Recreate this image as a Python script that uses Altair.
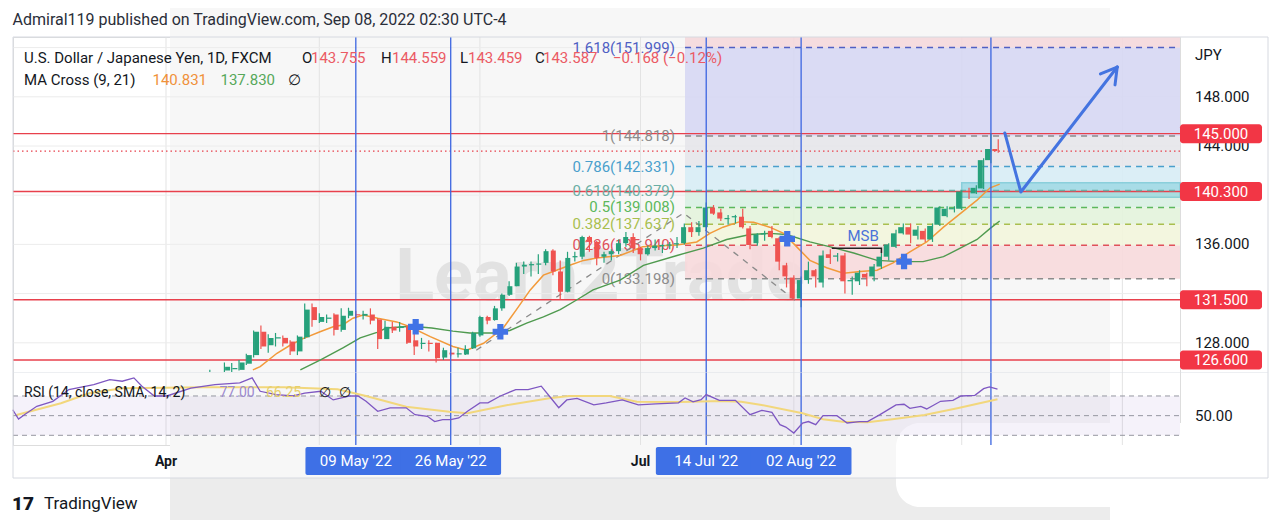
import numpy as np
import pandas as pd
import altair as alt

FONT = "Roboto"
W, H = 1167, 408
X_DOM = [-20.96, 138.9]
P_DOM = [125.626, 152.862]
P_RNG = [335, 0]
R_DOM = [20.13, 94.4]
R_RNG = [408, 335]

DARK = "#131722"
UP = "#26a17b"
DOWN = "#ef5350"
RED = "#e8404c"
BLUE = "#3b65e0"

# ---------------- data ----------------
candle_start = "2022-04-11"
candle_end = "2022-09-08"
opens = [124.3, 125.45, 125.75, 125.85, 125.8, 126.3, 127.0, 128.9, 127.8, 128.35,
         128.4, 128.1, 127.3, 128.45, 130.9, 129.7, 129.95, 130.3, 129.05, 130.2,
         130.3, 130.2, 130.3, 129.9, 128.3, 129.3, 129.2, 129.3, 128.2, 127.9,
         128.0, 128.0, 126.8, 127.2, 127.05, 127.05, 127.55, 128.6, 130.1, 129.85,
         130.8, 131.9, 132.6, 134.2, 134.3, 134.35, 134.5, 135.5, 133.8, 132.15,
         134.95, 135.0, 136.6, 136.2, 135.0, 135.2, 135.45, 136.1, 136.6, 135.7,
         135.2, 135.7, 135.85, 135.9, 136.0, 136.1, 137.4, 137.0, 137.4, 139.0,
         138.6, 138.05, 138.2, 138.25, 137.3, 136.1, 136.8, 137.1, 136.5, 134.3,
         133.3, 131.6, 133.1, 133.9, 132.9, 135.2, 135.0, 135.1, 133.0, 133.0,
         133.6, 133.4, 134.2, 135.0, 135.8, 136.9, 137.4, 136.7, 137.1, 136.4,
         137.6, 138.3, 138.85, 138.9, 140.35, 140.15, 140.55, 142.85, 143.755]
highs = [125.8, 125.6, 126.4, 126.35, 126.6, 127.1, 129.0, 129.4, 128.7, 128.8,
         128.6, 128.2, 128.6, 131.2, 131.2, 130.4, 130.3, 130.4, 130.8, 130.85,
         130.6, 130.6, 130.8, 130.0, 129.8, 129.7, 129.7, 129.4, 128.9, 128.4,
         128.2, 128.0, 127.6, 127.6, 127.6, 127.8, 128.9, 130.2, 130.2, 131.0,
         132.0, 133.0, 134.5, 134.6, 134.6, 135.2, 135.6, 135.6, 134.7, 135.4,
         135.4, 136.7, 136.7, 136.3, 135.4, 135.6, 136.4, 137.0, 136.9, 135.8,
         135.9, 136.4, 136.0, 136.2, 136.6, 137.7, 137.8, 137.9, 139.4, 139.2,
         138.9, 138.4, 138.4, 138.9, 137.5, 136.9, 137.1, 137.5, 136.6, 134.5,
         133.5, 133.4, 134.6, 134.0, 135.5, 135.6, 135.3, 135.3, 133.4, 133.9,
         133.7, 134.4, 135.5, 136.1, 137.2, 137.7, 137.7, 137.5, 137.3, 137.7,
         139.1, 139.1, 139.1, 140.4, 140.6, 140.8, 143.0, 144.99, 144.559]
lows = [124.2, 124.7, 125.0, 125.5, 125.75, 126.2, 126.8, 127.5, 127.2, 127.7,
        127.7, 127.0, 127.0, 128.3, 129.3, 129.6, 129.6, 128.6, 128.9, 130.0,
        130.0, 129.9, 129.5, 127.5, 128.3, 128.8, 128.9, 127.9, 127.0, 127.5,
        127.3, 126.4, 126.6, 126.9, 126.8, 127.0, 127.5, 128.5, 129.5, 129.8,
        130.6, 131.8, 132.6, 133.6, 133.4, 133.6, 134.3, 133.5, 131.5, 132.1,
        134.6, 134.8, 135.4, 134.3, 134.5, 134.7, 135.2, 135.8, 135.3, 134.7,
        135.1, 135.5, 135.3, 135.6, 135.7, 136.0, 136.6, 136.7, 137.2, 138.4,
        137.9, 137.6, 137.7, 137.3, 135.6, 135.9, 136.3, 136.5, 133.9, 132.5,
        131.5, 130.9, 132.8, 132.5, 132.5, 134.4, 134.6, 132.0, 131.9, 132.7,
        132.6, 133.0, 134.0, 134.7, 135.7, 136.8, 136.1, 136.4, 136.2, 136.2,
        137.5, 138.2, 138.6, 138.8, 139.7, 140.1, 140.5, 142.6, 143.459]
closes = [125.4, 125.35, 126.05, 125.95, 126.4, 127.0, 128.9, 127.7, 128.4, 128.45,
          127.95, 127.3, 128.5, 130.7, 129.85, 130.1, 130.05, 129.05, 130.2, 130.6,
          130.25, 130.35, 129.8, 128.3, 129.3, 129.0, 129.35, 128.0, 127.7, 128.0,
          127.9, 126.75, 127.4, 127.05, 127.15, 127.5, 128.8, 130.1, 129.8, 130.8,
          131.9, 132.6, 134.2, 134.35, 134.4, 134.45, 135.45, 133.8, 132.15, 134.9,
          135.05, 136.6, 136.2, 134.9, 135.2, 135.45, 136.1, 136.6, 135.7, 135.2,
          135.7, 135.9, 135.95, 136.0, 136.1, 137.4, 137.0, 137.4, 139.0, 138.5,
          138.1, 138.15, 138.3, 137.4, 135.95, 136.8, 136.9, 136.6, 134.6, 133.4,
          131.6, 133.1, 133.9, 133.4, 135.1, 134.9, 135.1, 133.0, 133.1, 133.7,
          133.3, 134.2, 135.0, 136.0, 136.9, 137.4, 136.8, 137.2, 136.4, 137.5,
          139.0, 138.9, 138.95, 140.3, 140.25, 140.6, 142.85, 143.755, 143.587]

ma9_day = [11.9, 12.9, 15.2, 17.0, 18.6, 21.1, 22.9, 24.2, 25.6, 27.0, 29.0, 31.6, 33.4,
           36.2, 39.3, 41.2, 43.5, 46.2, 48.0, 49.9, 51.7, 53.5, 55.3, 57.2, 59.0, 62.2,
           65.3, 70.0, 72.7, 74.5, 76.3, 78.6, 80.5, 82.7, 84.6, 86.4, 88.2, 90.5, 92.8,
           95.1, 97.4, 99.6, 101.9, 104.2, 106.5, 108.8, 111.1, 112.9, 114.2]
ma9_val = [125.8, 126.06, 127.15, 127.8, 128.3, 128.9, 129.3, 129.45, 130.0, 130.26, 130.0,
           129.7, 129.3, 128.5, 127.7, 127.4, 127.96, 129.2, 130.7, 132.3, 133.5, 133.9,
           134.3, 134.7, 134.9, 135.1, 135.8, 135.95, 136.2, 136.9, 137.4, 137.85, 137.8,
           137.4, 136.9, 135.8, 134.7, 134.1, 133.65, 133.8, 133.9, 134.5, 135.4, 136.2,
           137.4, 138.5, 139.6, 140.6, 140.9]
ma21_day = [18.4, 21.1, 24.3, 26.6, 28.9, 30.2, 33.6, 36.4, 39.3, 41.6, 44.8, 47.1, 49.4,
            51.7, 54.0, 56.3, 58.5, 62.2, 65.4, 70.0, 73.6, 76.8, 80.0, 82.7, 85.0, 88.2,
            91.0, 94.2, 97.4, 100.5, 103.7, 106.5, 108.8, 111.1, 112.9, 114.2]
ma21_val = [125.8, 126.6, 127.6, 128.4, 128.85, 129.2, 129.35, 129.2, 128.95, 128.8, 128.8,
            129.0, 129.6, 130.1, 130.7, 131.5, 132.3, 133.1, 134.3, 135.1, 135.7, 136.4,
            136.8, 136.9, 136.8, 136.2, 135.8, 135.3, 134.7, 134.6, 134.6, 135.0, 135.7,
            136.4, 137.3, 137.9]

rsi_day = [-21.0, -20.2, -19.4, -17.7, -15.5, -13.3, -9.9, -7.7, -6.0, -4.4, -3.3, -1.6,
           0.1, 3.4, 6.7, 10.1, 11.8, 12.9, 15.1, 17.4, 19.0, 21.2, 22.9, 25.2, 26.3, 27.4,
           29.0, 30.7, 32.9, 34.1, 35.8, 36.8, 37.9, 39.0, 40.1, 41.3, 43.0, 44.1, 45.8,
           47.9, 49.6, 51.4, 52.5, 53.8, 54.9, 56.3, 58.6, 60.3, 62.5, 64.7, 67.1, 70.2,
           71.1, 72.2, 73.3, 74.0, 75.8, 78.0, 80.0, 81.6, 83.0, 84.1, 84.9, 86.0, 87.2,
           88.0, 89.0, 90.0, 91.9, 93.3, 95.0, 96.1, 97.8, 100.0, 101.1, 101.9, 103.4,
           104.2, 106.1, 107.8, 108.9, 110.8, 112.0, 112.8, 113.9]
rsi_val = [56, 46.6, 51, 59.5, 64.6, 76.5, 81.6, 86.7, 85, 88.4, 80, 70, 70, 78, 81.6,
           83.3, 88.4, 74.8, 71.4, 70, 73, 74.8, 66, 70, 70, 64.6, 54.4, 58, 58, 51, 49.3,
           44, 46, 46, 47.6, 54.4, 63, 63, 70, 76.5, 76.5, 80, 70, 58, 66, 67.5, 61, 63,
           66, 61, 62, 63, 68, 64, 66.3, 71.4, 65.6, 65.6, 51, 55.4, 53.4, 40.8, 38.4,
           32.3, 42.5, 44, 40.8, 50, 50, 42.5, 44, 44, 51, 61, 61.6, 57.5, 59.5, 56.8,
           64.6, 65.6, 70, 70.7, 77.5, 79.3, 77.0]
sma_day = [-20.5, -14.4, -10.5, -6.0, 5.1, 16.2, 23.5, 27.4, 32.9, 38.8, 41.3, 46.8, 52.5,
           55.2, 60.8, 64.5, 70.5, 76.0, 78.8, 81.6, 87.2, 90.0, 92.7, 96.1, 99.5, 103.9,
           108.4, 113.9]
sma_val = [50.7, 62.6, 72.7, 77.9, 78.8, 78.8, 76.8, 70, 59.1, 54, 52.4, 60.8, 67.6, 70, 70,
           64.2, 63.9, 64.9, 64.2, 60.8, 52.4, 46.3, 43.8, 43.2, 46.3, 50.7, 57.5, 66.6]

fib_ratio = ["0", "0.236", "0.382", "0.5", "0.618", "0.786", "1", "1.618"]
fib_price = [133.198, 135.940, 137.637, 139.008, 140.379, 142.331, 144.818, 151.999]
fib_color = ["#8c8c8c", "#e0505a", "#a9bf4f", "#5cb85c", "#6aaea4", "#4a9fcc", "#8c8c8c", "#4f5fc4"]
band_color = ["#f7d9dc", "#f2f5dc", "#e3f3dc", "#d8f0e3", "#d7ecf5", "#e6e6ea", "#d6d7f3", "#f4d8db"]
fib_start_day = 71.1

levels = [145.0, 140.3, 131.5, 126.6]
last_price = 143.587
price_ticks = [128, 136, 144, 148]
month_days = [0, 21, 43, 65, 86, 109, 131]
grid_prices = [128, 132, 136, 140, 144, 148, 152]
month_labels = [("Apr", 0), ("Jul", 65)]

event_dates = ["2022-05-09", "2022-05-26", "2022-07-14", "2022-08-02", "2022-09-07"]
event_labels = ["09 May '22", "26 May '22", "14 Jul '22", "02 Aug '22", ""]

cross_day = [34.2, 45.8, 85.1, 101.1]
cross_price = [129.3, 128.9, 136.45, 134.6]

trend_day = [42.5, 70.9, 86.5]
trend_price = [127.4, 138.55, 131.3]

arrow_day = [114.9, 117.1, 130.3]
arrow_price = [145.06, 140.26, 150.42]
wing_day = [128.0, 130.0]
wing_price = [149.86, 148.97]

zone_day = [109.0, 138.9]
zone_price = [139.83, 141.02]

msb_day = [91.2, 98.0, 98.0]
msb_price = [135.68, 135.68, 135.3]

# ---------------- helpers ----------------
ONE = pd.DataFrame({"k": [0]})


def xq(f):
    return alt.X(f, type="quantitative", axis=None,
                 scale=alt.Scale(domain=X_DOM, nice=False, zero=False))


def py(f):
    return alt.Y(f, type="quantitative", axis=None,
                 scale=alt.Scale(domain=P_DOM, range=P_RNG, nice=False, zero=False, clamp=True))


def ry(f):
    return alt.Y(f, type="quantitative", axis=None,
                 scale=alt.Scale(domain=R_DOM, range=R_RNG, nice=False, zero=False))


def box(x1, x2, y1, y2, **kw):
    return alt.Chart(ONE).mark_rect(**kw).encode(
        x=alt.value(x1), x2=alt.value(x2), y=alt.value(y1), y2=alt.value(y2))


def ptext(rows, size=15, weight="normal", align="left", baseline="middle"):
    df = pd.DataFrame(rows, columns=["px", "py", "t", "c"])
    return alt.Chart(df).mark_text(align=align, baseline=baseline, fontSize=size,
                                   fontWeight=weight, font=FONT).encode(
        x=alt.X("px:Q", scale=None, axis=None),
        y=alt.Y("py:Q", scale=None, axis=None),
        text="t:N", color=alt.Color("c:N", scale=None))


# ---------------- tables ----------------
dates = pd.bdate_range(candle_start, candle_end)
cd = pd.DataFrame({"o": opens, "h": highs, "l": lows, "c": closes})
cd["i"] = np.busday_count(np.datetime64("2022-04-01"), dates.values.astype("datetime64[D]"))
cd["col"] = np.where(cd["c"] >= cd["o"], UP, DOWN)
mid = (cd["o"] + cd["c"]) / 2
top = cd[["o", "c"]].max(axis=1)
bot = cd[["o", "c"]].min(axis=1)
small = (top - bot) < 0.09
cd["bt"] = np.where(small, mid + 0.045, top)
cd["bb"] = np.where(small, mid - 0.045, bot)

ma9 = pd.DataFrame({"d": ma9_day, "v": ma9_val})
ma21 = pd.DataFrame({"d": ma21_day, "v": ma21_val})
rsi = pd.DataFrame({"d": rsi_day, "v": rsi_val})
sma = pd.DataFrame({"d": sma_day, "v": sma_val})

fib = pd.DataFrame({"r": fib_ratio, "p": fib_price, "col": fib_color})
fib["x0"] = fib_start_day
fib["x1"] = X_DOM[1]
fib["lab"] = fib["r"] + "(" + fib["p"].map(lambda v: f"{v:.3f}") + ")"
bands = pd.DataFrame({"lo": fib_price, "hi": fib_price[1:] + [P_DOM[1]], "col": band_color})
bands["x0"] = fib_start_day
bands["x1"] = X_DOM[1]

lv = pd.DataFrame({"p": levels})
lv["lo"] = lv["p"] - 0.77
lv["hi"] = lv["p"] + 0.77
lv["t"] = lv["p"].map(lambda v: f"{v:.3f}")

ev = pd.DataFrame({"date": event_dates, "t": event_labels})
ev["i"] = np.busday_count(np.datetime64("2022-04-01"), pd.to_datetime(ev["date"]).values.astype("datetime64[D]"))
evl = ev[ev["t"] != ""].copy()
evl["x0"] = evl["i"] - 6.9
evl["x1"] = evl["i"] + 6.9

ticks = pd.DataFrame({"p": price_ticks})
ticks["t"] = ticks["p"].map(lambda v: f"{v:.3f}")
mgrid = pd.DataFrame({"d": month_days})
hgrid = pd.DataFrame({"p": grid_prices})
mlab = pd.DataFrame(month_labels, columns=["t", "d"])

crosses = pd.DataFrame({"d": cross_day, "p": cross_price})
trend = pd.DataFrame({"d": trend_day, "p": trend_price})
arrow = pd.DataFrame({"d": arrow_day, "p": arrow_price, "k": range(3)})
wings = pd.DataFrame({"d": [arrow_day[-1]] * 2, "p": [arrow_price[-1]] * 2,
                      "d2": wing_day, "p2": wing_price})
zone = pd.DataFrame({"x0": [zone_day[0]], "x1": [zone_day[1]], "lo": [zone_price[0]], "hi": [zone_price[1]]})
msb = pd.DataFrame({"d": msb_day, "p": msb_price, "k": range(3)})
rsi_levels = pd.DataFrame({"v": [70, 50, 30]})
rsi_band = pd.DataFrame({"lo": [30], "hi": [70]})

layers = []

# background tint of the screenshot and white blob
layers.append(box(157, 1097, -29, 483, color="#f7f7f7"))
layers.append(box(157, 1097, 441, 483, color="#ececec"))
layers.append(box(883, 1200, 386, 470, color="#ffffff", cornerRadius=24))

# watermark
layers.append(ptext([[587, 241, "Learn2Trade", "#e2e2e2"]], size=72, weight="bold", align="center"))

# grid
layers.append(alt.Chart(mgrid).mark_rule(color="#e3e3e3", strokeWidth=1).encode(
    x=xq("d"), y=alt.value(0), y2=alt.value(408)))
layers.append(alt.Chart(hgrid).mark_rule(color="#ececec", strokeWidth=1).encode(
    y=py("p"), x=alt.value(0), x2=alt.value(W)))

# fib bands
layers.append(alt.Chart(bands).mark_rect(opacity=0.9).encode(
    x=xq("x0"), x2="x1", y=py("lo"), y2="hi", color=alt.Color("col:N", scale=None)))
# 140.3 zone
layers.append(alt.Chart(zone).mark_rect(color="#7fcfdc", opacity=0.55, stroke="#48b6c6", strokeWidth=1.5).encode(
    x=xq("x0"), x2="x1", y=py("lo"), y2="hi"))

# rsi band
layers.append(alt.Chart(rsi_band).mark_rect(color="#7e57c2", opacity=0.08).encode(
    y=ry("lo"), y2="hi", x=alt.value(0), x2=alt.value(W)))

# red horizontal levels and last price
layers.append(alt.Chart(lv).mark_rule(color=RED, strokeWidth=1.3).encode(
    y=py("p"), x=alt.value(0), x2=alt.value(W)))
layers.append(alt.Chart(pd.DataFrame({"p": [last_price]})).mark_rule(
    color=RED, strokeWidth=1.2, strokeDash=[1.5, 3]).encode(y=py("p"), x=alt.value(0), x2=alt.value(W)))

# fib lines and labels
layers.append(alt.Chart(fib).mark_rule(strokeWidth=1.5, strokeDash=[6, 5]).encode(
    x=xq("x0"), x2="x1", y=py("p"), color=alt.Color("col:N", scale=None)))
layers.append(alt.Chart(fib).mark_text(align="right", baseline="middle", fontSize=15, font=FONT).encode(
    x=alt.value(662), y=py("p"), text="lab:N", color=alt.Color("col:N", scale=None)))

# fib trend dashed
layers.append(alt.Chart(trend).mark_line(color="#8a8a8a", strokeWidth=1.3, strokeDash=[6, 6]).encode(
    x=xq("d"), y=py("p")))

# moving averages
layers.append(alt.Chart(ma21).mark_line(color="#4f9a4f", strokeWidth=1.4).encode(x=xq("d"), y=py("v")))
layers.append(alt.Chart(ma9).mark_line(color="#f29a3a", strokeWidth=1.5).encode(x=xq("d"), y=py("v")))

# candles
layers.append(alt.Chart(cd).mark_rule(strokeWidth=1.2).encode(
    x=xq("i"), y=py("l"), y2="h", color=alt.Color("col:N", scale=None)))
layers.append(alt.Chart(cd).mark_bar(size=5).encode(
    x=xq("i"), y=py("bb"), y2="bt", color=alt.Color("col:N", scale=None)))

# MA cross markers
layers.append(alt.Chart(crosses).mark_point(shape="cross", filled=True, size=240, color="#4173e6", opacity=1).encode(
    x=xq("d"), y=py("p")))

# vertical blue lines
layers.append(alt.Chart(ev).mark_rule(color=BLUE, strokeWidth=1.3).encode(
    x=xq("i"), y=alt.value(0), y2=alt.value(408)))

# RSI pane
layers.append(alt.Chart(rsi_levels).mark_rule(color="#9598a1", strokeWidth=1, strokeDash=[5, 4]).encode(
    y=ry("v"), x=alt.value(0), x2=alt.value(W)))
layers.append(alt.Chart(sma).mark_line(color="#f2d77c", strokeWidth=2).encode(x=xq("d"), y=ry("v")))
layers.append(alt.Chart(rsi).mark_line(color="#7e57c2", strokeWidth=1.3).encode(x=xq("d"), y=ry("v")))

# arrow
layers.append(alt.Chart(arrow).mark_line(color="#4474e0", strokeWidth=3, strokeCap="round", strokeJoin="round").encode(
    x=xq("d"), y=py("p"), order="k:Q"))
layers.append(alt.Chart(wings).mark_rule(color="#4474e0", strokeWidth=3, strokeCap="round").encode(
    x=xq("d"), x2="d2", y=py("p"), y2="p2"))

# MSB
layers.append(alt.Chart(msb).mark_line(color="#222222", strokeWidth=1.5).encode(
    x=xq("d"), y=py("p"), order="k:Q"))
layers.append(alt.Chart(pd.DataFrame({"d": [95.5], "p": [136.68], "t": ["MSB"]})).mark_text(
    fontSize=15, font=FONT, color="#4a72d9", align="center", baseline="middle").encode(
    x=xq("d"), y=py("p"), text="t:N"))

# frame and pane separator
layers.append(box(0, 1255, 0, 441, fillOpacity=0, stroke="#d6d9e0", strokeWidth=1))
layers.append(box(0, 1255, 335, 335.5, color="#dcdfe6"))

# header and legends
layers.append(ptext([[-0.5, -17, "Admiral119 published on TradingView.com, Sep 08, 2022 02:30 UTC-4", "#2a2e39"]], size=16))
legend_rows = [
    [11, 21, "U.S. Dollar / Japanese Yen, 1D, FXCM", DARK],
    [289, 21, "O", DARK], [298, 21, "143.755", "#eb5a64"],
    [368, 21, "H", DARK], [379, 21, "144.559", "#eb5a64"],
    [447, 21, "L", DARK], [455, 21, "143.459", "#eb5a64"],
    [522, 21, "C", DARK], [530, 21, "143.587", "#eb5a64"],
    [600, 21, "\u22120.168 (\u22120.12%)", "#eb5a64"],
    [11, 43, "MA Cross (9, 21)", DARK], [139.5, 43, "140.831", "#f0913a"],
    [207.5, 43, "137.830", "#56a85a"], [275, 43, "\u2205", DARK],
    [1182, 18, "JPY", DARK],
]
layers.append(ptext(legend_rows, size=15))
layers.append(ptext([
    [11, 356, "RSI (14, close, SMA, 14, 2)", DARK],
    [206.5, 356, "77.00", "#9c8ad0"], [253, 356, "66.25", "#e6cf6a"],
    [306, 356, "\u2205", DARK], [326, 356, "\u2205", DARK],
], size=14))

# price scale labels
layers.append(alt.Chart(ticks).mark_text(align="left", baseline="middle", fontSize=15, font=FONT, color=DARK).encode(
    x=alt.value(1182), y=py("p"), text="t:N"))
layers.append(alt.Chart(pd.DataFrame({"v": [50], "t": ["50.00"]})).mark_text(
    align="left", baseline="middle", fontSize=15, font=FONT, color=DARK).encode(
    x=alt.value(1182), y=ry("v"), text="t:N"))
layers.append(alt.Chart(lv).mark_rect(color="#f23645", cornerRadius=3).encode(
    x=alt.value(1167), x2=alt.value(1249), y=py("lo"), y2="hi"))
layers.append(alt.Chart(lv).mark_text(align="center", baseline="middle", fontSize=15, font=FONT, color="white").encode(
    x=alt.value(1208), y=py("p"), text="t:N"))

# time axis labels
layers.append(alt.Chart(mlab).mark_text(align="center", baseline="middle", fontSize=14, fontWeight="bold",
                                         font=FONT, color=DARK).encode(
    x=xq("d"), y=alt.value(425), text="t:N"))
layers.append(alt.Chart(evl).mark_rect(color="#3e70e6", cornerRadius=2).encode(
    x=xq("x0"), x2="x1", y=alt.value(410), y2=alt.value(438)))
layers.append(alt.Chart(evl).mark_text(align="center", baseline="middle", fontSize=15, font=FONT, color="white").encode(
    x=xq("i"), y=alt.value(424), text="t:N"))

# TradingView logo
layers.append(ptext([[-1, 467, "17", "#131722"]], size=19, weight=900))
layers.append(ptext([[31, 467, "TradingView", "#131722"]], size=17))

chart = alt.layer(*layers).resolve_scale(x="independent", y="independent").properties(
    width=W, height=H,
    padding={"left": 5, "top": 29, "right": 92, "bottom": 75},
    autosize=alt.AutoSizeParams(type="none"),
    background="white",
).configure_view(stroke=None).configure(font=FONT)

chart.save("out.html", embed_options={"renderer": "svg", "actions": False})
